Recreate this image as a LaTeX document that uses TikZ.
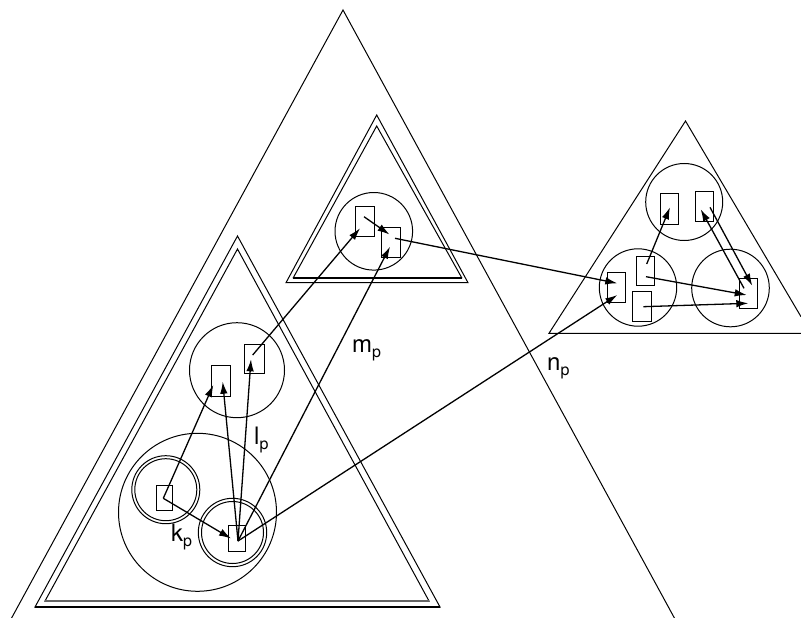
\documentclass[tikz,border=0pt]{standalone}
\usepackage{fontspec}
\setmainfont{TeX Gyre Heros}
\usetikzlibrary{arrows.meta}
\newcommand\mysub[2]{#1\raisebox{-5pt}{\fontsize{16}{16}\selectfont #2}}
\begin{document}
\begin{tikzpicture}[x=1pt,y=-1pt,
  tri/.style={line width=1pt, line join=miter},
  base/.style={line width=2pt},
  ring/.style={draw, circle, line width=1pt, inner sep=0pt},
  pbox/.style={draw, rectangle, line width=1pt, inner sep=0pt, fill=white},
  conn/.style={-{Latex[length=12pt,width=7.5pt]}, line width=1.3pt},
  lbl/.style={font=\fontsize{24}{26}\selectfont, inner sep=0pt, anchor=base west}]
\useasboundingbox (0,0) rectangle (801,618);
% big triangle
\draw[tri] (11.6,618) -- (343,10) -- (674.4,618);
% left double triangle
\draw[tri] (35,607) -- (237.5,236) -- (440,607) -- cycle;
\draw[tri] (45,601) -- (237.5,249) -- (429,601) -- cycle;
\draw[base] (35,607) -- (440,607);
\draw[base,black!60] (45,601) -- (429,601);
% middle double triangle
\draw[tri,fill=white] (286,282.7) -- (376.7,115) -- (468,282.7) -- cycle;
\draw[tri] (293.3,277.7) -- (376.7,126) -- (461.7,277.7) -- cycle;
\draw[base] (293.3,277.7) -- (461.7,277.7);
% right triangle
\draw[tri] (801,316.7) -- (685.5,121) -- (549,333.3) -- (801,333.3);
% circles
\node[ring, minimum size=77.6pt] (cm) at (373.8,231.3) {};
\node[ring, minimum size=95pt] (cl) at (237,370.2) {};
\node[ring, minimum size=158pt] (cb) at (197.5,512.3) {};
\node[ring, minimum size=68pt] (ck1) at (165.8,489.7) {};
\node[ring, minimum size=62pt] (ck1i) at (165.8,489.7) {};
\node[ring, minimum size=68.4pt] (ck2) at (232.5,532.5) {};
\node[ring, minimum size=62pt] (ck2i) at (232.5,532.5) {};
\node[ring, minimum size=77pt] (rt) at (684.2,202) {};
\node[ring, minimum size=77.4pt] (rl) at (638,287.5) {};
\node[ring, minimum size=77.6pt] (rr) at (730.5,288) {};
% boxes
\node[pbox, minimum width=19pt, minimum height=30pt] (mb1) at (364.5,221.7) {};
\node[pbox, minimum width=19pt, minimum height=30pt] (mb2) at (390.5,242.3) {};
\node[pbox, minimum width=19pt, minimum height=31pt] (L1) at (220.5,381.3) {};
\node[pbox, minimum width=20pt, minimum height=29pt] (L2) at (254.3,358.7) {};
\node[pbox, minimum width=16pt, minimum height=25pt] (K1) at (164.7,497.5) {};
\node[pbox, minimum width=17pt, minimum height=26pt] (K2) at (236.7,538.8) {};
\node[pbox, minimum width=18pt, minimum height=31pt] (A) at (669.5,208.7) {};
\node[pbox, minimum width=18pt, minimum height=30pt] (B) at (704.7,206.5) {};
\node[pbox, minimum width=18pt, minimum height=30pt] (C) at (616.9,287.3) {};
\node[pbox, minimum width=18pt, minimum height=29pt] (D) at (645.9,271.2) {};
\node[pbox, minimum width=19pt, minimum height=30pt] (E) at (642,306.2) {};
\node[pbox, minimum width=18pt, minimum height=30pt] (F) at (748,293.9) {};
% arrow end points
\coordinate (mb1s) at (364,216.7);
\coordinate (mb2t) at (389.5,234.5);
\coordinate (mb2s) at (395,238.3);
\coordinate (mb2b) at (390,246.7);
\coordinate (mb1b) at (360,228.3);
\coordinate (L2s) at (252.7,355);
\coordinate (L2t) at (251,359.3);
\coordinate (L1a) at (213.3,385);
\coordinate (L1b) at (222.7,381.7);
\coordinate (K1s) at (163.3,498.3);
\coordinate (K2t) at (231,538.5);
\coordinate (K2s) at (238,541);
\coordinate (Ca) at (617.3,283.3);
\coordinate (Cb) at (617.3,295);
\coordinate (Ds) at (646.7,264);
\coordinate (Ds2) at (646,276.7);
\coordinate (At) at (670,207.3);
\coordinate (Bs) at (710,207.3);
\coordinate (Bt) at (700.7,209.3);
\coordinate (Fs) at (744,288.3);
\coordinate (Fa) at (752.3,285.7);
\coordinate (Fb) at (746.7,295);
\coordinate (Fc) at (748.3,303.3);
\coordinate (Es) at (643.3,306.7);
% connectors
\draw[conn] (mb1s) -- (mb2t);
\draw[conn] (mb2s) -- (Ca);
\draw[conn] (K2s) -- (mb2b);
\draw[conn] (L2s) -- (mb1b);
\draw[conn] (K2s) -- (L2t);
\draw[conn] (K2s) -- (L1b);
\draw[conn] (K1s) -- (L1a);
\draw[conn] (K1s) -- (K2t);
\draw[conn] (K2s) -- (Cb);
\draw[conn] (Ds) -- (At);
\draw[conn] (Bs) -- (Fa);
\draw[conn] (Fs) -- (Bt);
\draw[conn] (Ds2) -- (Fb);
\draw[conn] (Es) -- (Fc);
% labels
\node[lbl] (kp) at (171,541) {\mysub{k}{p}};
\node[lbl] (lp) at (254,444) {\mysub{l}{p}};
\node[lbl] (mp) at (352,352) {\mysub{m}{p}};
\node[lbl] (np) at (547,370) {\mysub{n}{p}};
\end{tikzpicture}
\end{document}
